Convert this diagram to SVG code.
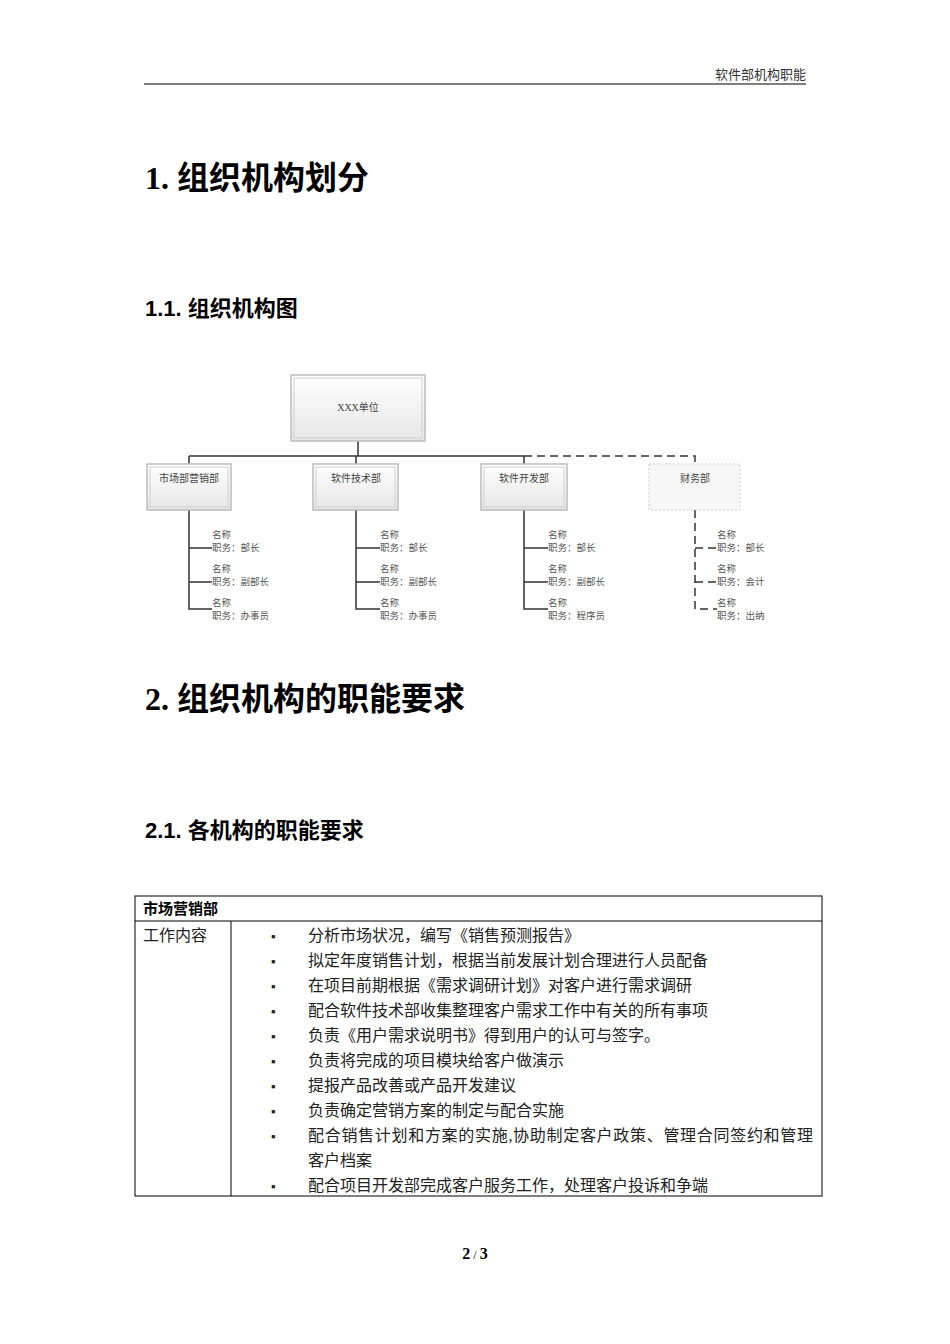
<svg xmlns="http://www.w3.org/2000/svg" width="950" height="1344" viewBox="0 0 950 1344">
<defs>
<linearGradient id="g" x1="0" y1="0" x2="0" y2="1"><stop offset="0" stop-color="#ffffff"/><stop offset="1" stop-color="#e6e6e6"/></linearGradient>
</defs>
<style>
.s{font-family:"Liberation Serif","Noto Sans CJK SC",serif}
.h1{font-family:"Liberation Serif","Noto Sans CJK SC",serif;font-size:32px;font-weight:bold}
.h2{font-family:"Liberation Sans","Noto Sans CJK SC",sans-serif;font-size:22px;font-weight:bold}
.bx{fill:url(#g);stroke:#bdbdbd;stroke-width:1.5}
.in{fill:none;stroke:#d0d0d0}
.lab{font-family:"Liberation Serif","Noto Sans CJK SC",serif;font-size:10px;fill:#444}
.sm{font-family:"Liberation Serif","Noto Sans CJK SC",serif;font-size:9.5px;fill:#555}
.ln{stroke:#333;stroke-width:1.5;fill:none}
.dl{stroke:#333;stroke-width:1.5;fill:none;stroke-dasharray:8,5}
.t{font-family:"Liberation Serif","Noto Sans CJK SC",serif;font-size:16px;fill:#222}
</style>
<rect width="950" height="1344" fill="#fff"/>
<text x="806" y="79" text-anchor="end" class="s" font-size="13" fill="#333">软件部机构职能</text>
<line x1="144" y1="84" x2="806" y2="84" stroke="#000" stroke-width="1"/>
<text x="145" y="189" class="h1">1. 组织机构划分</text>
<text x="145" y="316" class="h2">1.1. 组织机构图</text>

<g id="connectors">
<path class="ln" d="M358 441V456M189 456H524M189 456V464M356 456V464M524 456V464"/>
<path class="dl" d="M524 456H695V464"/>
<path class="ln" d="M189 510V609H212M189 548H212M189 582H212"/>
<path class="ln" d="M356 510V609H380M356 548H380M356 582H380"/>
<path class="ln" d="M524 510V609H548M524 548H548M524 582H548"/>
<path class="dl" d="M695 510V609H717M695 548H717M695 582H717"/>
</g>
<g id="n0"><rect class="bx" x="291" y="375" width="134" height="66"/><rect class="in" x="294" y="378" width="128" height="60"/><text class="lab" x="358" y="411" text-anchor="middle">XXX单位</text></g>
<g id="n1"><rect class="bx" x="147" y="464" width="84" height="46"/><rect class="in" x="150" y="467" width="78" height="40"/><text class="lab" x="189" y="482" text-anchor="middle">市场部营销部</text></g>
<g id="n2"><rect class="bx" x="313" y="464" width="85" height="46"/><rect class="in" x="316" y="467" width="79" height="40"/><text class="lab" x="356" y="482" text-anchor="middle">软件技术部</text></g>
<g id="n3"><rect class="bx" x="481" y="464" width="86" height="46"/><rect class="in" x="484" y="467" width="80" height="40"/><text class="lab" x="524" y="482" text-anchor="middle">软件开发部</text></g>
<g id="n4"><rect x="649" y="464" width="91" height="46" fill="#f7f7f7" stroke="#ccc" stroke-dasharray="2,2"/><text class="lab" x="695" y="482" text-anchor="middle" fill="#666">财务部</text></g>
<g id="p1" class="sm"><text x="212" y="538">名称</text><text x="212" y="551">职务：部长</text><text x="212" y="572">名称</text><text x="212" y="585">职务：副部长</text><text x="212" y="606">名称</text><text x="212" y="619">职务：办事员</text></g>
<g id="p2" class="sm"><text x="380" y="538">名称</text><text x="380" y="551">职务：部长</text><text x="380" y="572">名称</text><text x="380" y="585">职务：副部长</text><text x="380" y="606">名称</text><text x="380" y="619">职务：办事员</text></g>
<g id="p3" class="sm"><text x="548" y="538">名称</text><text x="548" y="551">职务：部长</text><text x="548" y="572">名称</text><text x="548" y="585">职务：副部长</text><text x="548" y="606">名称</text><text x="548" y="619">职务：程序员</text></g>
<g id="p4" class="sm"><text x="717" y="538">名称</text><text x="717" y="551">职务：部长</text><text x="717" y="572">名称</text><text x="717" y="585">职务：会计</text><text x="717" y="606">名称</text><text x="717" y="619">职务：出纳</text></g>

<text x="145" y="710" class="h1">2. 组织机构的职能要求</text>
<text x="145" y="838" class="h2">2.1. 各机构的职能要求</text>

<g id="table" fill="none" stroke="#000" stroke-width="1">
<rect x="135" y="896" width="687" height="300"/>
<line x1="135" y1="921" x2="822" y2="921"/>
<line x1="231" y1="921" x2="231" y2="1196"/>
</g>
<text x="143" y="914" font-family="Liberation Sans,Noto Sans CJK SC,sans-serif" font-size="15" font-weight="bold">市场营销部</text>
<text x="143" y="941" class="t">工作内容</text>
<g class="t">
<text x="271" y="941" font-size="13">▪</text><text x="308" y="941">分析市场状况，编写《销售预测报告》</text>
<text x="271" y="966" font-size="13">▪</text><text x="308" y="966">拟定年度销售计划，根据当前发展计划合理进行人员配备</text>
<text x="271" y="991" font-size="13">▪</text><text x="308" y="991">在项目前期根据《需求调研计划》对客户进行需求调研</text>
<text x="271" y="1016" font-size="13">▪</text><text x="308" y="1016">配合软件技术部收集整理客户需求工作中有关的所有事项</text>
<text x="271" y="1041" font-size="13">▪</text><text x="308" y="1041">负责《用户需求说明书》得到用户的认可与签字。</text>
<text x="271" y="1066" font-size="13">▪</text><text x="308" y="1066">负责将完成的项目模块给客户做演示</text>
<text x="271" y="1091" font-size="13">▪</text><text x="308" y="1091">提报产品改善或产品开发建议</text>
<text x="271" y="1116" font-size="13">▪</text><text x="308" y="1116">负责确定营销方案的制定与配合实施</text>
<text x="271" y="1141" font-size="13">▪</text><text x="308" y="1141" textLength="505">配合销售计划和方案的实施,协助制定客户政策、管理合同签约和管理</text>
<text x="308" y="1166">客户档案</text>
<text x="271" y="1191" font-size="13">▪</text><text x="308" y="1191">配合项目开发部完成客户服务工作，处理客户投诉和争端</text>
</g>
<text x="475" y="1259" text-anchor="middle" class="s" font-size="16"><tspan font-weight="bold">2</tspan><tspan font-size="12"> / </tspan><tspan font-weight="bold">3</tspan></text>
</svg>
